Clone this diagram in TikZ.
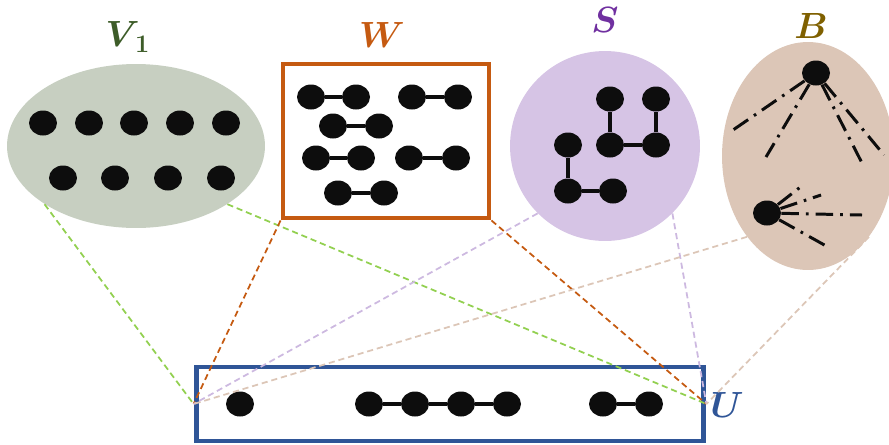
\documentclass[tikz,border=0pt]{standalone}
\usepackage{amsmath}
\usepackage{bm}
\usetikzlibrary{shapes.geometric}
\definecolor{vgreen}{HTML}{C7CFC1}
\definecolor{vlabel}{HTML}{3D5C28}
\definecolor{wline}{HTML}{C55A11}
\definecolor{sfill}{HTML}{D6C4E5}
\definecolor{slabel}{HTML}{7030A0}
\definecolor{sdash}{HTML}{CDB9E0}
\definecolor{bfill}{HTML}{DCC6B7}
\definecolor{blabel}{HTML}{7F6000}
\definecolor{uline}{HTML}{2F5597}
\definecolor{gdash}{HTML}{92D050}
\definecolor{dotc}{HTML}{0D0D0D}
\tikzset{
  dot/.style={ellipse,fill=dotc,minimum width=0.56cm,minimum height=0.5cm,inner sep=0pt},
  edge/.style={dotc,line width=2.4pt},
  ddot/.style={dotc,line width=1.7pt,dash pattern=on 10pt off 4pt on 1.5pt off 4pt},
  link/.style={line width=1pt,dash pattern=on 3.5pt off 2.2pt},
  lbl/.style={font=\fontsize{21}{22}\selectfont}
}
\begin{document}
\begin{tikzpicture}[x=0.02cm,y=-0.02cm]
\useasboundingbox (0,0) rectangle (889,444);
\node [ellipse,fill=vgreen,minimum width=5.16cm,minimum height=3.28cm] (V) at (136,146) {};
\node [draw=wline,line width=2.8pt,minimum width=4.12cm,minimum height=3.08cm] (W) at (386,141) {};
\node [circle,fill=sfill,minimum size=3.8cm] (S) at (605,146) {};
\node [ellipse,fill=bfill,minimum width=3.44cm,minimum height=4.56cm] (B) at (808,156) {};
\node [draw=uline,line width=2.8pt,minimum width=10.16cm,minimum height=1.48cm] (U) at (450,404) {};
\node [lbl,text=vlabel] (Vl) at (128,37) {$\bm{V_{\,1}}$};
\node [lbl,text=wline] (Wl) at (382,35) {$\bm{W}$};
\node [lbl,text=slabel] (Sl) at (605,20) {$\bm{S}$};
\node [lbl,text=blabel] (Bl) at (811,26) {$\bm{B}$};
\node [lbl,text=uline] (Ul) at (727,405) {$\bm{U}$};
\foreach \x [count=\i] in {43,89,134,180,226}
  \node [dot] (v\i) at (\x,123) {};
\foreach \x [count=\i] in {63,115,168,221}
  \node [dot] (vb\i) at (\x,178) {};
\node [dot] (w1) at (311,97) {};
\node [dot] (w2) at (356,97) {};
\node [dot] (w3) at (412,97) {};
\node [dot] (w4) at (458,97) {};
\node [dot] (w5) at (333,126) {};
\node [dot] (w6) at (379,126) {};
\node [dot] (w7) at (316,158) {};
\node [dot] (w8) at (361,158) {};
\node [dot] (w9) at (409,158) {};
\node [dot] (w10) at (456,158) {};
\node [dot] (w11) at (338,193) {};
\node [dot] (w12) at (384,193) {};
\draw [edge] (w1) -- (w2);
\draw [edge] (w3) -- (w4);
\draw [edge] (w5) -- (w6);
\draw [edge] (w7) -- (w8);
\draw [edge] (w9) -- (w10);
\draw [edge] (w11) -- (w12);
\node [dot] (s1) at (610,99) {};
\node [dot] (s2) at (656,99) {};
\node [dot] (s3) at (610,145) {};
\node [dot] (s4) at (656,145) {};
\node [dot] (s5) at (568,145) {};
\node [dot] (s6) at (568,191) {};
\node [dot] (s7) at (613,191) {};
\draw [edge] (s1) -- (s3) -- (s4) -- (s2);
\draw [edge] (s5) -- (s6) -- (s7);
\node [dot] (bt) at (816,73) {};
\node [dot] (bb) at (767,213) {};
\coordinate (bt1) at (733,130);
\coordinate (bt2) at (766,157);
\coordinate (bt3) at (862,163);
\coordinate (bt4) at (884,155);
\coordinate (bb1) at (803,185);
\coordinate (bb2) at (821,195);
\coordinate (bb3) at (862,215);
\coordinate (bb4) at (828,247);
\foreach \c in {bt1,bt2,bt3,bt4}
  \draw [ddot] (bt) -- (\c);
\foreach \c in {bb1,bb2,bb3,bb4}
  \draw [ddot] (bb) -- (\c);
\node [dot] (u1) at (240,404) {};
\node [dot] (u2) at (369,404) {};
\node [dot] (u3) at (415,404) {};
\node [dot] (u4) at (461,404) {};
\node [dot] (u5) at (507,404) {};
\node [dot] (u6) at (603,404) {};
\node [dot] (u7) at (649,404) {};
\draw [edge] (u2) -- (u3) -- (u4) -- (u5);
\draw [edge] (u6) -- (u7);
\draw [link,gdash] (V.south west) -- (U.west);
\draw [link,gdash] (V.south east) -- (U.east);
\draw [link,wline] (W.south west) -- (U.west);
\draw [link,wline] (W.south east) -- (U.east);
\draw [link,sdash] (S.south west) -- (U.west);
\draw [link,sdash] (S.south east) -- (U.east);
\draw [link,bfill] (B.south west) -- (U.west);
\draw [link,bfill] (B.south east) -- (U.east);
\end{tikzpicture}
\end{document}
